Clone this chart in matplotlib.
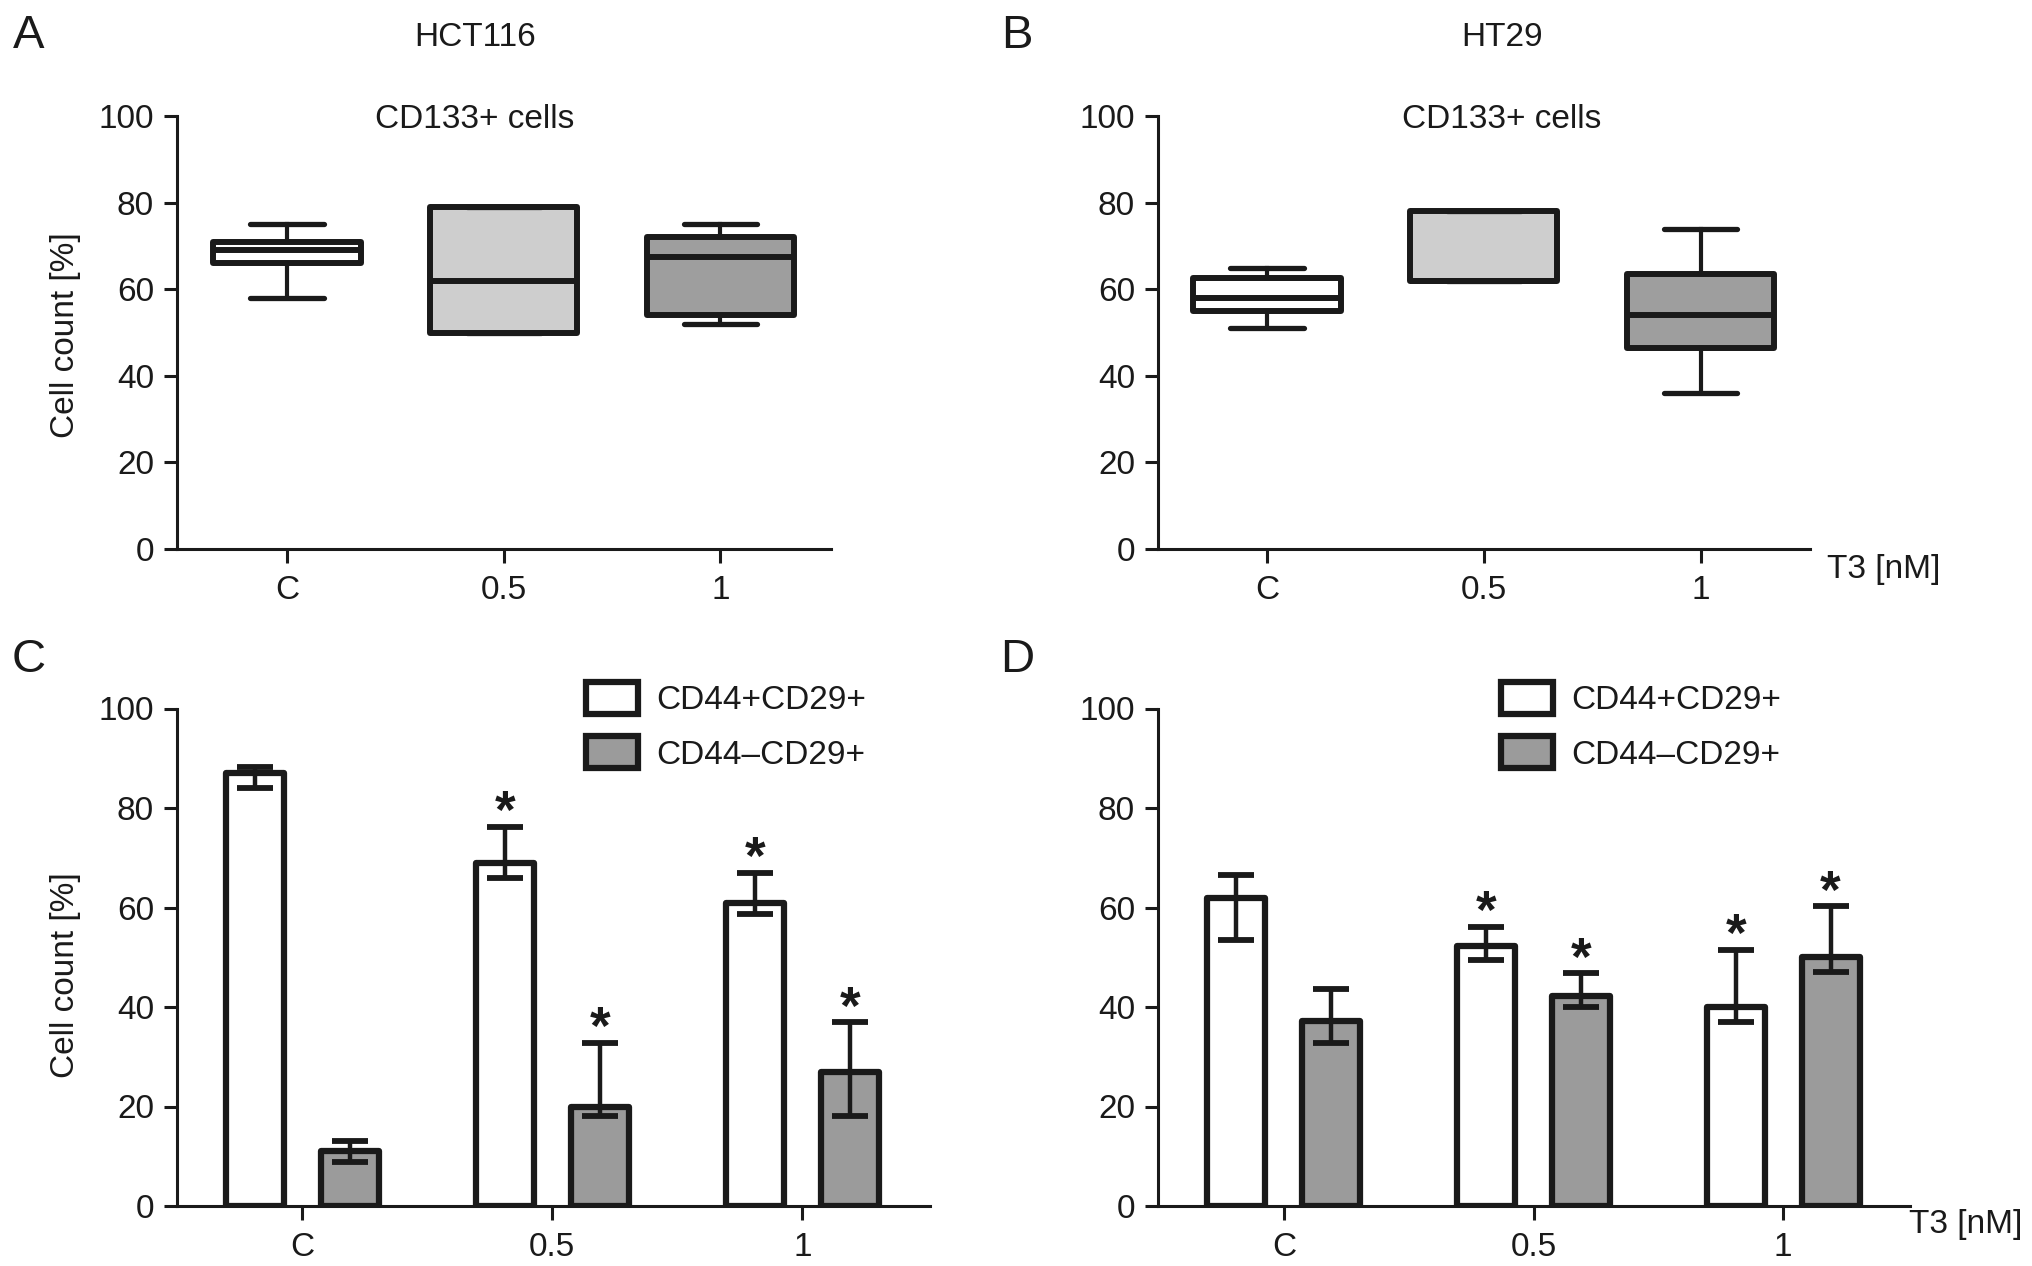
import matplotlib
matplotlib.use("Agg")
import matplotlib.pyplot as plt
import numpy as np

plt.rcParams['font.family'] = ['Liberation Sans', 'DejaVu Sans']

# ---------------- data ----------------
categories = ['C', '0.5', '1']

# Panel A (HCT116, CD133+ cells) box stats
a_q1 = [66.0, 50.0, 54.0]
a_med = [69.0, 62.0, 67.5]
a_q3 = [71.0, 79.0, 72.0]
a_lo = [58.0, 50.0, 52.0]
a_hi = [75.0, 79.0, 75.0]

# Panel B (HT29, CD133+ cells) box stats
b_q1 = [55.0, 62.0, 46.5]
b_med = [58.0, 62.0, 54.0]
b_q3 = [62.5, 78.0, 63.5]
b_lo = [51.0, 62.0, 36.0]
b_hi = [65.0, 78.0, 74.0]

box_colors = ['#ffffff', '#cecece', '#9e9e9e']

series_names = ['CD44+CD29+', 'CD44\u2013CD29+']
bar_colors = ['#ffffff', '#9b9b9b']

# Panel C (HCT116) bars: mean, lower error end, upper error end
c_pos_mean = [87.0, 69.0, 61.0]
c_pos_low = [84.0, 66.0, 58.6]
c_pos_high = [88.2, 76.2, 67.0]
c_neg_mean = [11.0, 20.0, 27.0]
c_neg_low = [8.9, 18.0, 18.0]
c_neg_high = [13.1, 32.8, 36.9]
c_pos_sig = [False, True, True]
c_neg_sig = [False, True, True]

# Panel D (HT29) bars
d_pos_mean = [62.0, 52.3, 40.1]
d_pos_low = [53.5, 49.5, 36.9]
d_pos_high = [66.5, 56.1, 51.5]
d_neg_mean = [37.1, 42.2, 50.1]
d_neg_low = [32.8, 40.1, 47.0]
d_neg_high = [43.6, 46.8, 60.3]
d_pos_sig = [False, True, True]
d_neg_sig = [False, True, True]

# ---------------- figure ----------------
W, H = 2032, 1266
fig = plt.figure(figsize=(W / 100, H / 100), dpi=100)

INK = '#1a1a1a'
FS = 24


def fx(px):
    return px / W


def fy(py):
    return 1 - py / H


def style_axes(ax, xlim):
    ax.set_xlim(*xlim)
    ax.set_ylim(0, 100)
    for s in ['top', 'right']:
        ax.spines[s].set_visible(False)
    for s in ['left', 'bottom']:
        ax.spines[s].set_linewidth(2.2)
        ax.spines[s].set_color(INK)
    ax.set_yticks([0, 20, 40, 60, 80, 100])
    ax.set_xticks(range(len(categories)))
    ax.set_xticklabels(categories)
    ax.tick_params(axis='both', labelsize=FS, width=2.2, color=INK,
                   labelcolor=INK, direction='out')
    ax.tick_params(axis='y', length=9.5, pad=7)
    ax.tick_params(axis='x', length=10, pad=9)


def draw_box(ax, q1, med, q3, lo, hi):
    stats = []
    for i in range(len(categories)):
        stats.append(dict(q1=q1[i], med=med[i], q3=q3[i],
                          whislo=lo[i], whishi=hi[i], fliers=[]))
    res = ax.bxp(stats, positions=range(len(categories)), widths=0.68,
                 patch_artist=True, showfliers=False,
                 boxprops=dict(linewidth=4.3, edgecolor=INK, joinstyle='round'),
                 whiskerprops=dict(linewidth=3.0, color=INK),
                 capprops=dict(linewidth=3.8, color=INK, solid_capstyle='round'),
                 medianprops=dict(linewidth=4.3, color=INK))
    for patch, col in zip(res['boxes'], box_colors):
        patch.set_facecolor(col)


def draw_bars(ax, means, lows, highs, sigs, offset, color, label):
    x = np.arange(len(categories)) + offset
    bars = ax.bar(x, means, width=0.232, color=color, edgecolor=INK,
                  linewidth=4.5, label=label, zorder=2, joinstyle='round')
    m = np.array(means)
    yerr = [m - np.array(lows), np.array(highs) - m]
    ax.errorbar(x, m, yerr=yerr, fmt='none', ecolor=INK, elinewidth=3.2,
                capsize=13, capthick=4.2, zorder=3)
    for xi, hi, s in zip(x, highs, sigs):
        if s:
            ax.text(xi, hi - 0.3, '*', ha='center', va='baseline',
                    fontsize=38, fontweight='bold', color=INK, zorder=4)
    return bars


# Panel A
axA = fig.add_axes([fx(177), fy(549), fx(831 - 177), (549 - 116) / H])
draw_box(axA, a_q1, a_med, a_q3, a_lo, a_hi)
style_axes(axA, (-0.507, 2.51))
axA.set_ylabel('Cell count [%]', fontsize=FS, color=INK)
axA.yaxis.set_label_coords(-0.147, 0.494)

# Panel B
axB = fig.add_axes([fx(1158), fy(549), fx(1810 - 1158), (549 - 116) / H])
draw_box(axB, b_q1, b_med, b_q3, b_lo, b_hi)
style_axes(axB, (-0.502, 2.505))

# Panel C
axC = fig.add_axes([fx(177), fy(1206), fx(930 - 177), (1206 - 708.5) / H])
hc1 = draw_bars(axC, c_pos_mean, c_pos_low, c_pos_high, c_pos_sig, -0.19,
                bar_colors[0], series_names[0])
hc2 = draw_bars(axC, c_neg_mean, c_neg_low, c_neg_high, c_neg_sig, 0.19,
                bar_colors[1], series_names[1])
style_axes(axC, (-0.5, 2.51))
axC.set_ylabel('Cell count [%]', fontsize=FS, color=INK)
axC.yaxis.set_label_coords(-0.128, 0.465)

# Panel D
axD = fig.add_axes([fx(1158), fy(1206), fx(1910 - 1158), (1206 - 708.5) / H])
hd1 = draw_bars(axD, d_pos_mean, d_pos_low, d_pos_high, d_pos_sig, -0.19,
                bar_colors[0], series_names[0])
hd2 = draw_bars(axD, d_neg_mean, d_neg_low, d_neg_high, d_neg_sig, 0.19,
                bar_colors[1], series_names[1])
style_axes(axD, (-0.504, 2.508))

# Legends
for ax, left in [(axC, 586), (axD, 1501)]:
    ax.legend(loc='upper left', bbox_to_anchor=(fx(left), fy(682)),
              bbox_transform=fig.transFigure, frameon=False, fontsize=FS,
              handlelength=1.55, handleheight=1.1, handletextpad=0.55,
              labelspacing=0.6, borderpad=0, borderaxespad=0,
              labelcolor=INK)

# Titles and annotations
fig.text(fx(475), fy(38), 'HCT116', ha='center', va='center', fontsize=FS, color=INK)
fig.text(fx(1502), fy(38), 'HT29', ha='center', va='center', fontsize=FS, color=INK)
fig.text(fx(475), fy(120), 'CD133+ cells', ha='center', va='center', fontsize=FS, color=INK)
fig.text(fx(1502), fy(120), 'CD133+ cells', ha='center', va='center', fontsize=FS, color=INK)
fig.text(fx(1884), fy(569), 'T3 [nM]', ha='center', va='center', fontsize=FS, color=INK)
fig.text(fx(1966), fy(1224), 'T3 [nM]', ha='center', va='center', fontsize=FS, color=INK)

for lab, (px, py) in zip(['A', 'B', 'C', 'D'],
                         [(29, 36), (1017, 36), (29, 660), (1017, 660)]):
    fig.text(fx(px), fy(py), lab, ha='center', va='center', fontsize=34, color=INK)

fig.savefig('out.png', dpi=100, facecolor='white')
